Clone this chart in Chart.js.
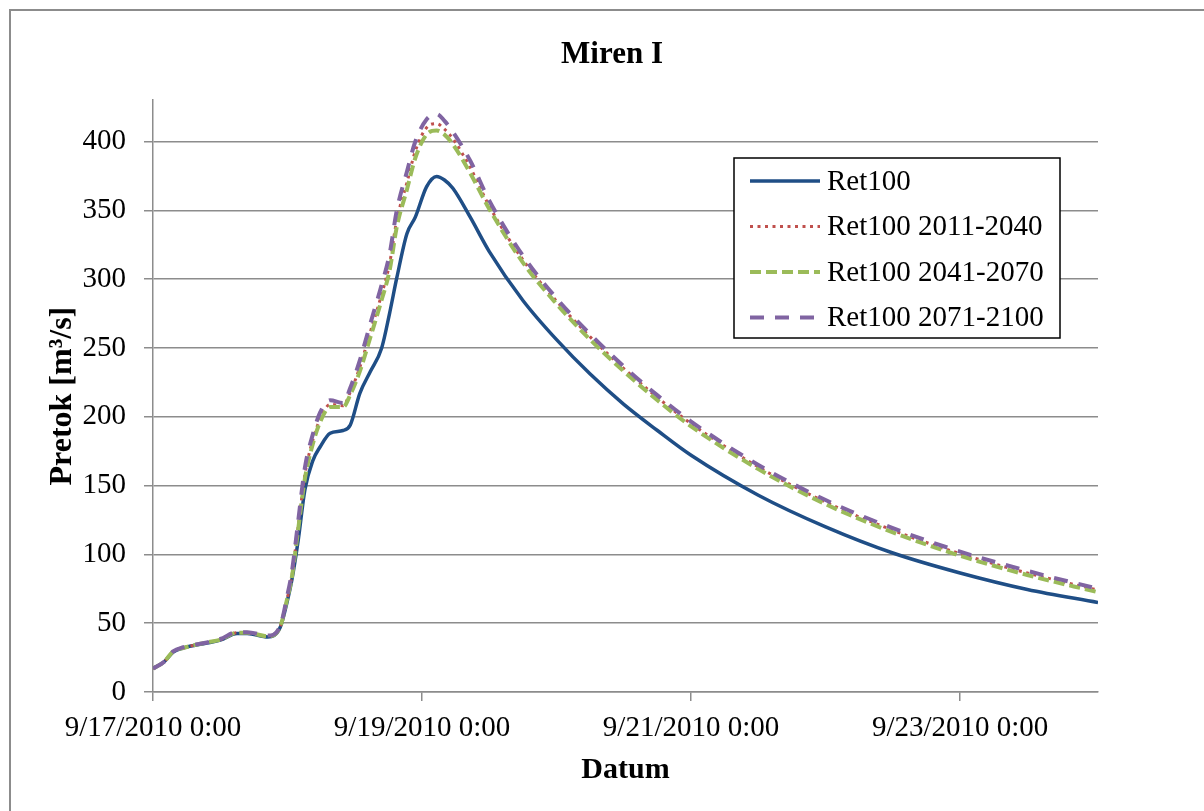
<!DOCTYPE html>
<html>
<head>
<meta charset="utf-8">
<title>Miren I</title>
<script src="https://cdn.jsdelivr.net/npm/chart.js@4.4.0/dist/chart.umd.min.js"></script>
<style>
    html, body { margin: 0; padding: 0; background: #fff; overflow: hidden; }
    #frame {
        position: absolute; left: 9px; top: 9px; width: 1250px; height: 850px;
        border-top: 2px solid #8c8c8c; border-left: 2px solid #8c8c8c;
    }
    #chart { position: absolute; left: 0; top: 0; }
</style>
</head>
<body>
<div id="frame"></div>
<canvas id="chart" width="1204" height="811"></canvas>
<script>
// hours since 9/17/2010 0:00
const hours = [0, 2, 3.6, 5.4, 9.6, 12, 15, 16.8, 20.5, 22.7, 23.9, 24.8, 25.9, 27.1, 28.5, 29.8,
    31.6, 33.9, 35.2, 36.9, 38.8, 40.8, 42.2, 43.5, 45.3, 46.8, 48.8, 50.6, 52, 53.5, 56.6,
    60, 66, 72, 78, 84, 90, 96, 108, 120, 132, 144, 156, 168.6];

const ret100 = [17, 22, 29, 32, 35.6, 37.7, 42.5, 42.5, 40, 47, 65, 82, 110, 147, 168, 178,
    188, 190, 194, 217, 233, 250, 275, 301, 333, 345, 367, 374.6, 372, 366, 345,
    320, 284.5, 256, 231, 209, 190, 172, 143, 120, 101, 86.5, 74.5, 65];

const ret100_2011_2040 = [17, 22, 29.5, 32, 36, 38, 43, 43, 40.5, 47.5, 67, 85, 120, 158, 183, 198,
    209, 208, 218, 236, 262, 289, 311, 343, 370, 393, 410, 413, 409, 402, 381,
    353, 314, 284, 258, 235, 214, 195, 163.5, 138, 117.5, 100.5, 86.5, 74];

const ret100_2041_2070 = [17, 22, 29.5, 32, 36, 38, 43, 43, 40.5, 47.5, 67, 84, 118, 155, 180, 196,
    207, 207, 216, 233, 258, 285, 306, 338, 365, 388, 405, 408, 405, 398, 377,
    351, 312, 282, 256, 233, 212, 193, 162, 136.5, 116, 99, 85, 72.5];

const ret100_2071_2100 = [17, 22, 29.5, 32.5, 36, 38.5, 43.5, 43.5, 41, 48, 69, 88, 124, 163, 187, 203,
    212, 210, 221, 241, 268, 296, 318, 350, 378, 400, 416, 420, 415, 407, 386,
    357, 317, 286, 260, 236.5, 215.5, 196.5, 165, 139.5, 119, 102, 88, 75];

const tickHours = [0, 48, 96, 144];
const tickLabels = ['9/17/2010 0:00', '9/19/2010 0:00', '9/21/2010 0:00', '9/23/2010 0:00'];

const fontFamily = "'Liberation Serif', 'Times New Roman', serif";
const gridColor = '#8c8c8c';

function toPoints(values) {
    return hours.map(function (h, i) {
        return { x: h, y: values[i] };
    });
}

// legend drawn as a framed box inside the plot, like the Excel original
const boxLegend = {
    id: 'boxLegend',
    afterDatasetsDraw: function (chart) {
        const ctx = chart.ctx;
        const left = 734, top = 158, width = 326, height = 180;
        ctx.save();
        ctx.fillStyle = '#fff';
        ctx.fillRect(left, top, width, height);
        ctx.strokeStyle = '#000';
        ctx.lineWidth = 1.5;
        ctx.strokeRect(left, top, width, height);

        chart.data.datasets.forEach(function (ds, i) {
            const y = top + 23 + i * 45.5;
            ctx.beginPath();
            ctx.setLineDash(ds.borderDash || []);
            ctx.lineCap = 'butt';
            ctx.strokeStyle = ds.borderColor;
            ctx.lineWidth = ds.borderWidth;
            ctx.moveTo(750, y);
            ctx.lineTo(820, y);
            ctx.stroke();

            ctx.setLineDash([]);
            ctx.fillStyle = '#000';
            ctx.font = '29px ' + fontFamily;
            ctx.textBaseline = 'middle';
            ctx.textAlign = 'left';
            ctx.fillText(ds.label, 827, y + 1);
        });
        ctx.restore();
    }
};

Chart.defaults.font.family = fontFamily;
Chart.defaults.color = '#000';

new Chart(document.getElementById('chart'), {
    type: 'line',
    data: {
        datasets: [
            {
                label: 'Ret100',
                data: toPoints(ret100),
                borderColor: '#1F4E86',
                borderWidth: 3.5,
                order: 4
            },
            {
                label: 'Ret100 2011-2040',
                data: toPoints(ret100_2011_2040),
                borderColor: '#C0504D',
                borderWidth: 3,
                borderDash: [3, 4.5],
                order: 3
            },
            {
                label: 'Ret100 2041-2070',
                data: toPoints(ret100_2041_2070),
                borderColor: '#9BBB59',
                borderWidth: 4,
                borderDash: [11, 5],
                order: 2
            },
            {
                label: 'Ret100 2071-2100',
                data: toPoints(ret100_2071_2100),
                borderColor: '#8064A2',
                borderWidth: 4,
                borderDash: [14, 11],
                order: 1
            }
        ]
    },
    options: {
        responsive: false,
        animation: false,
        layout: {
            padding: { left: 20, right: 0, top: 10, bottom: 19 }
        },
        elements: {
            point: { radius: 0 },
            line: { cubicInterpolationMode: 'monotone', fill: false }
        },
        scales: {
            x: {
                type: 'linear',
                min: 0,
                max: 168.6,
                afterFit: function (scale) { scale.height = 100; },
                afterBuildTicks: function (scale) {
                    scale.ticks = tickHours.map(function (v) { return { value: v }; });
                },
                ticks: {
                    padding: 10,
                    maxRotation: 0,
                    font: { size: 29 },
                    callback: function (value) {
                        const idx = tickHours.indexOf(value);
                        return idx >= 0 ? tickLabels[idx] : '';
                    }
                },
                grid: {
                    drawOnChartArea: false,
                    drawTicks: true,
                    tickLength: 9,
                    color: gridColor,
                    lineWidth: 1.5
                },
                border: { color: gridColor, width: 1.5 },
                title: {
                    display: true,
                    text: 'Datum',
                    font: { size: 30, weight: 'bold' },
                    padding: { top: 0, bottom: 4 }
                }
            },
            y: {
                min: 0,
                max: 430,
                afterFit: function (scale) { scale.width = 133; },
                ticks: {
                    stepSize: 50,
                    includeBounds: false,
                    padding: 18,
                    font: { size: 29 }
                },
                grid: {
                    color: gridColor,
                    lineWidth: 1.5,
                    drawTicks: true,
                    tickLength: 9
                },
                border: { color: gridColor, width: 1.5 },
                title: {
                    display: true,
                    text: 'Pretok [m³/s]',
                    font: { size: 32, weight: 'bold' },
                    padding: { top: 24, bottom: 0 }
                }
            },
            // empty right-hand box, keeps the plot edge where the original has it
            yRight: {
                position: 'right',
                min: 0,
                max: 430,
                afterFit: function (scale) { scale.width = 106; },
                ticks: { display: false },
                grid: { display: false },
                border: { display: false }
            }
        },
        plugins: {
            legend: { display: false },
            tooltip: { enabled: false },
            title: {
                display: true,
                text: 'Miren I',
                font: { size: 31, weight: 'bold' },
                padding: { top: 26, bottom: 27 }
            }
        }
    },
    plugins: [boxLegend]
});
</script>
</body>
</html>
